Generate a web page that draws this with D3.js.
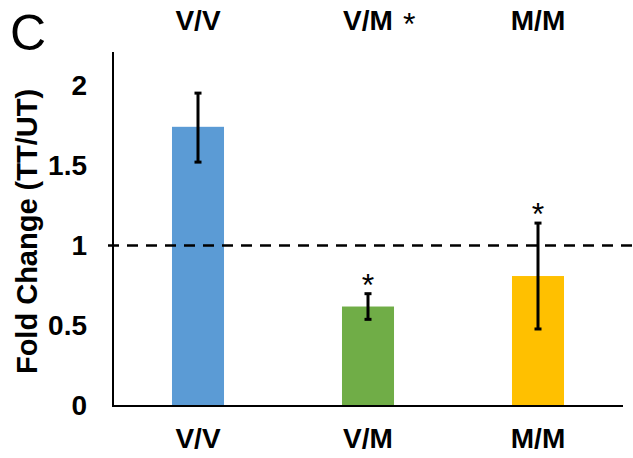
<!DOCTYPE html>
<html>
<head>
<meta charset="utf-8">
<script src="https://cdn.jsdelivr.net/npm/d3@7"></script>
<style>
  body { margin: 0; background: #fff; }
  text { font-family: "Liberation Sans", Arial, sans-serif; }
</style>
</head>
<body>
<div id="chart"></div>
<script>
// data
const groups = ['V/V', 'V/M', 'M/M'];
const foldChange = [1.74, 0.62, 0.81];
const errLow = [1.52, 0.54, 0.48];
const errHigh = [1.95, 0.70, 1.14];
const significant = [false, true, true];
const barColors = ['#5b9bd5', '#70ad47', '#ffc000'];
const yTicks = [0, 0.5, 1, 1.5, 2];
const refLine = 1;

const width = 633;
const height = 458;
const margin = { top: 53, right: 10, bottom: 52, left: 113 };

const svg = d3.select('#chart')
  .append('svg')
  .attr('width', width)
  .attr('height', height);

const xScale = d3.scaleBand()
  .domain(groups)
  .range([margin.left, width - margin.right])
  .paddingInner(0.694)
  .paddingOuter(0.347);

const yScale = d3.scaleLinear()
  .domain([0, 2.2])
  .range([height - margin.bottom, margin.top]);

const rows = groups.map((g, i) => ({
  group: g,
  value: foldChange[i],
  lo: errLow[i],
  hi: errHigh[i],
  sig: significant[i],
  color: barColors[i]
}));

// bars
svg.append('g')
  .selectAll('rect')
  .data(rows)
  .join('rect')
  .attr('x', d => xScale(d.group))
  .attr('y', d => yScale(d.value))
  .attr('width', xScale.bandwidth())
  .attr('height', d => yScale(0) - yScale(d.value))
  .attr('fill', d => d.color);

// dashed reference line at 1
svg.append('line')
  .attr('x1', margin.left - 5)
  .attr('x2', width)
  .attr('y1', yScale(refLine))
  .attr('y2', yScale(refLine))
  .attr('stroke', '#000')
  .attr('stroke-width', 2.5)
  .attr('stroke-dasharray', '11,8');

// error bars
const errs = svg.append('g').attr('stroke', '#000');
const cx = d => xScale(d.group) + xScale.bandwidth() / 2;
errs.selectAll('line.stem')
  .data(rows)
  .join('line')
  .attr('class', 'stem')
  .attr('x1', cx).attr('x2', cx)
  .attr('y1', d => yScale(d.lo))
  .attr('y2', d => yScale(d.hi))
  .attr('stroke-width', 3);
errs.selectAll('line.cap')
  .data(rows.flatMap(d => [{ d, v: d.lo }, { d, v: d.hi }]))
  .join('line')
  .attr('class', 'cap')
  .attr('x1', e => cx(e.d) - 3.5).attr('x2', e => cx(e.d) + 3.5)
  .attr('y1', e => yScale(e.v)).attr('y2', e => yScale(e.v))
  .attr('stroke-width', 3);

// asterisks above significant bars
svg.append('g')
  .selectAll('text')
  .data(rows.filter(d => d.sig))
  .join('text')
  .attr('x', cx)
  .attr('y', d => yScale(d.hi) + 2)
  .attr('text-anchor', 'middle')
  .attr('font-size', 32)
  .text('*');

// axes
const yAxis = svg.append('g')
  .attr('transform', `translate(${margin.left},0)`)
  .call(d3.axisLeft(yScale).tickValues(yTicks).tickSize(0).tickPadding(26).tickFormat(d3.format('~g')));
yAxis.select('.domain').remove();
yAxis.selectAll('text')
  .attr('font-size', 28)
  .attr('font-weight', 'bold')
  .attr('fill', '#000')
  .attr('font-family', '"Liberation Sans", Arial, sans-serif');

svg.append('line')
  .attr('x1', margin.left).attr('x2', margin.left)
  .attr('y1', margin.top - 1).attr('y2', yScale(0) + 1)
  .attr('stroke', '#000').attr('stroke-width', 2);
svg.append('line')
  .attr('x1', margin.left).attr('x2', width - margin.right)
  .attr('y1', yScale(0)).attr('y2', yScale(0))
  .attr('stroke', '#000').attr('stroke-width', 2);

// bottom category labels
svg.append('g')
  .selectAll('text')
  .data(groups)
  .join('text')
  .attr('x', d => xScale(d) + xScale.bandwidth() / 2)
  .attr('y', 448)
  .attr('text-anchor', 'middle')
  .attr('font-size', 28)
  .attr('font-weight', 'bold')
  .text(d => d);

// top category labels (V/M carries its own asterisk)
const topLabels = svg.append('g')
  .selectAll('text')
  .data(rows)
  .join('text')
  .attr('y', 30)
  .attr('font-size', 28)
  .attr('font-weight', 'bold')
  .text(d => d.group);
topLabels.each(function (d) {
  const w = this.getComputedTextLength();
  d3.select(this).attr('x', cx(d) - w / 2);
});
topLabels.filter(d => d.group === 'V/M')
  .append('tspan')
  .attr('dx', 10)
  .attr('dy', 5)
  .attr('font-size', 32)
  .attr('font-weight', 'normal')
  .text('*');

// y label
svg.append('text')
  .attr('transform', `translate(37,${(margin.top + yScale(0)) / 2 + 2}) rotate(-90)`)
  .attr('text-anchor', 'middle')
  .attr('font-size', 29)
  .attr('font-weight', 'bold')
  .text('Fold Change (TT/UT)');

// panel letter
svg.append('text')
  .attr('x', 10)
  .attr('y', 50)
  .attr('font-size', 50)
  .text('C');
</script>
</body>
</html>
